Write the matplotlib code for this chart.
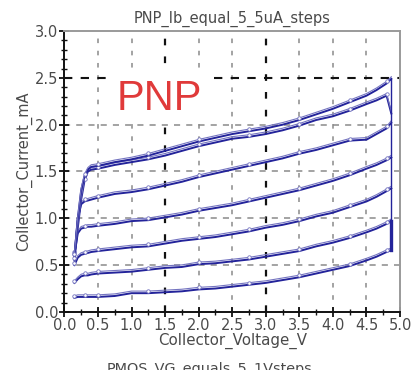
import matplotlib
matplotlib.use("Agg")
import matplotlib.pyplot as plt
import matplotlib.transforms as mtransforms
from matplotlib.ticker import MultipleLocator

# Collector sweep voltages (V)
vce = [0.15, 0.2, 0.25, 0.3, 0.35, 0.4, 0.5, 0.75, 1.0, 1.25, 1.5, 1.75, 2.0,
       2.25, 2.5, 2.75, 3.0, 3.25, 3.5, 3.75, 4.0, 4.25, 4.5, 4.65, 4.8, 4.87]

# Collector current (mA) for each base-current step
ic_step1 = [0.15, 0.16, 0.16, 0.16, 0.16, 0.16, 0.16, 0.17, 0.20, 0.20, 0.21, 0.22, 0.24,
            0.25, 0.27, 0.29, 0.31, 0.34, 0.37, 0.41, 0.45, 0.49, 0.55, 0.59, 0.64, 0.66]
ic_step2 = [0.31, 0.35, 0.38, 0.39, 0.39, 0.40, 0.41, 0.42, 0.43, 0.45, 0.47, 0.48, 0.51,
            0.52, 0.54, 0.56, 0.59, 0.62, 0.65, 0.70, 0.74, 0.79, 0.85, 0.89, 0.94, 0.97]
ic_step3 = [0.50, 0.58, 0.61, 0.62, 0.63, 0.64, 0.65, 0.67, 0.69, 0.70, 0.73, 0.76, 0.78,
            0.80, 0.83, 0.86, 0.90, 0.93, 0.97, 1.02, 1.06, 1.12, 1.18, 1.23, 1.29, 1.32]
ic_step4 = [0.62, 0.84, 0.89, 0.90, 0.91, 0.91, 0.92, 0.94, 0.97, 0.98, 1.01, 1.04, 1.08,
            1.11, 1.14, 1.18, 1.22, 1.26, 1.30, 1.35, 1.40, 1.46, 1.53, 1.57, 1.62, 1.65]
ic_step5 = [0.60, 1.00, 1.15, 1.18, 1.19, 1.20, 1.22, 1.26, 1.28, 1.31, 1.35, 1.39, 1.44,
            1.48, 1.52, 1.56, 1.60, 1.64, 1.69, 1.73, 1.78, 1.83, 1.84, 1.90, 1.96, 2.02]
ic_step6 = [0.55, 0.90, 1.20, 1.40, 1.50, 1.52, 1.53, 1.57, 1.60, 1.63, 1.67, 1.72, 1.77,
            1.81, 1.85, 1.87, 1.90, 1.94, 1.99, 2.05, 2.09, 2.15, 2.22, 2.26, 2.31, 2.12]
ic_step7 = [0.60, 1.00, 1.30, 1.45, 1.52, 1.55, 1.56, 1.60, 1.63, 1.67, 1.72, 1.77, 1.82,
            1.86, 1.90, 1.93, 1.96, 2.00, 2.05, 2.11, 2.17, 2.24, 2.31, 2.37, 2.44, 2.49]
ic_steps = [ic_step1, ic_step2, ic_step3, ic_step4, ic_step5, ic_step6, ic_step7]

x_ticks = [0.0, 0.5, 1.0, 1.5, 2.0, 2.5, 3.0, 3.5, 4.0, 4.5, 5.0]
y_ticks = [0.0, 0.5, 1.0, 1.5, 2.0, 2.5, 3.0]

title = "PNP_Ib_equal_5_5uA_steps"
x_label = "Collector_Voltage_V"
y_label = "Collector_Current_mA"
sub_label = "PMOS_VG_equals_5_1Vsteps"
device = "PNP"

fig = plt.figure(figsize=(4.18, 3.70), dpi=100)
ax = fig.add_axes([0.154, 0.157, 0.803, 0.759])
ax.set_xlim(0, 5.0)
ax.set_ylim(0, 3.0)

text_col = "#4a4a4a"

# dashed grid; a few lines are drawn darker
for xv in x_ticks[1:-1]:
    strong = xv in (1.5, 3.0)
    ax.axvline(xv, color="#111111" if strong else "#8a8a8a",
               lw=1.6 if strong else 1.1, ls=(0, (3, 5)), zorder=1)
for yv in y_ticks[1:-1]:
    strong = yv == 2.5
    ax.axhline(yv, color="#111111" if strong else "#8a8a8a",
               lw=1.5 if strong else 1.1, ls=(0, (4, 4)), zorder=1)

line_col = "#23239a"
light_col = "#7474c0"
offset = mtransforms.ScaledTranslation(0, 1.5 / 72, fig.dpi_scale_trans)
for ic in ic_steps:
    ax.plot(vce, ic, color=line_col, lw=1.4, zorder=3, solid_joinstyle="round")
    ax.plot(vce, ic, color=light_col, lw=0.8, zorder=3,
            transform=ax.transData + offset,
            marker="o", markersize=2.5, markerfacecolor="white",
            markeredgecolor=light_col, markeredgewidth=0.6, markevery=3)

# return trace at the end of the sweep joining the steps
ends = [ic[-1] for ic in ic_steps]
ax.plot([vce[-1], vce[-1]], [min(ends), max(ic_step7)], color=line_col, lw=1.0, zorder=3)
ax.plot([vce[-1], vce[-1]], [ic_step1[-1], ic_step2[-1]], color=line_col, lw=2.4, zorder=3)

ax.text(1.41, 2.27, device, color="#e03a3a", fontsize=30, family="Liberation Sans",
        ha="center", va="center", zorder=4,
        bbox=dict(boxstyle="square,pad=0.12", fc="white", ec="none"))

ax.set_xticks(x_ticks)
ax.set_yticks(y_ticks)
ax.set_xticklabels([f"{v:.1f}" for v in x_ticks])
ax.set_yticklabels([f"{v:.1f}" for v in y_ticks])
ax.xaxis.set_minor_locator(MultipleLocator(0.25))
ax.yaxis.set_minor_locator(MultipleLocator(0.1))
ax.tick_params(which="major", direction="inout", length=7, width=1.3, colors="#111111",
               labelcolor=text_col, labelsize=10.5, pad=1)
ax.tick_params(which="minor", direction="inout", length=4, width=1.0, colors="#111111")
ax.tick_params(axis="y", which="both", right=False)

for side in ("left", "bottom"):
    ax.spines[side].set_color("#111111")
    ax.spines[side].set_linewidth(1.4)
for side in ("top", "right"):
    ax.spines[side].set_color("#9a9a9a")
    ax.spines[side].set_linewidth(1.4)

ax.set_title(title, fontsize=10.5, color=text_col, pad=6)
ax.set_xlabel(x_label, fontsize=10.8, color=text_col, labelpad=0)
ax.set_ylabel(y_label, fontsize=10.5, color=text_col, labelpad=2)
fig.text(0.5, 0.003, sub_label, ha="center", va="center", fontsize=10.4, color=text_col)

fig.savefig("out.png", dpi=100)
